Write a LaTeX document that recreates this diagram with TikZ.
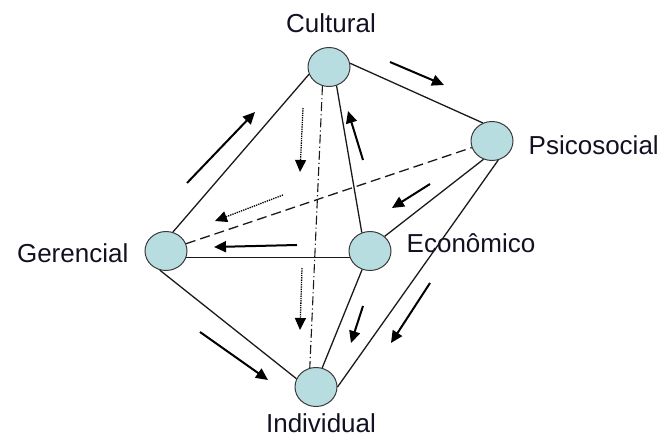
\documentclass[tikz,border=0pt]{standalone}
\usepackage{fontspec}
\setsansfont{Liberation Sans}
\usepackage{xcolor}
\definecolor{cNode}{HTML}{B7DDE0}
\definecolor{cRim}{HTML}{3A3A3A}
\definecolor{cText}{HTML}{111122}
\definecolor{cLine}{HTML}{1A1A1A}
\usepackage{tikz}
\usetikzlibrary{positioning,arrows.meta,shapes.geometric,calc}
\tikzset{
  node-dim/.style={ellipse,draw=cRim,line width=1pt,fill=cNode,
    minimum width=42pt,minimum height=39pt,inner sep=0pt},
  node-label/.style={inner sep=0pt,text=cText,
    font=\sffamily\fontsize{26}{30}\selectfont},
  edge/.style={draw=cLine,line width=1.3pt},
  edge-dashed/.style={edge,dash pattern=on 10pt off 5pt},
  edge-dashdot/.style={edge,line width=1.1pt,
    dash pattern=on 9pt off 3pt on 1.2pt off 3pt},
  arrow/.style={-{Triangle[length=12pt,width=11pt]},line width=2pt,draw=black},
  arrow-dotted/.style={-{Triangle[length=12pt,width=11pt]},line width=1.3pt,
    densely dotted,draw=black},
}

\begin{document}
\begin{tikzpicture}[x=1pt,y=-1pt]
  \useasboundingbox (0,0) rectangle (664,439);

  % dimensoes
  \node[node-dim] (cul) at (329,67) {};
  \node[node-dim] (psi) at (492,141) {};
  \node[node-dim] (ger) at (166,251) {};
  \node[node-dim] (eco) at (370,251) {};
  \node[node-dim] (ind) at (316,387) {};

  \node[node-label,anchor=base] (cul-l) at ([xshift=2pt,yshift=14.5pt]cul.north) {Cultural};
  \node[node-label,anchor=base west] (psi-l) at ([xshift=15pt,yshift=-13pt]psi.east) {Psicosocial};
  \node[node-label,anchor=base west] (eco-l) at ([xshift=15pt,yshift=-1pt]eco.east) {Econômico};
  \node[node-label,anchor=base east] (ger-l) at ([xshift=-16pt,yshift=-11pt]ger.west) {Gerencial};
  \node[node-label,anchor=base] (ind-l) at ([xshift=5pt,yshift=-25.5pt]ind.south) {Individual};

  % arestas
  \draw[edge] (cul.10) -- (psi.117);
  \draw[edge] (cul.200) -- (ger.70);
  \draw[edge] (cul.-68) -- (eco.114);
  \draw[edge] (psi.-115) -- (eco.45);
  \draw[edge] (psi.-72) -- (ind.east);
  \draw[edge] (ger.-17) -- (eco.197);
  \draw[edge] (ger.-108) -- (ind.157);
  \draw[edge] (eco.-113) -- (ind.72);
  \draw[edge-dashed] (ger.20) -- (psi.198);
  \draw[edge-dashdot] (cul.-109) -- (ind.108);

  % fluxos
  \coordinate (f1a) at (187,183);  \coordinate (f1b) at (255,112);
  \coordinate (f2a) at (390,62);   \coordinate (f2b) at (444,85);
  \coordinate (f3a) at (363,160);  \coordinate (f3b) at (348,111);
  \coordinate (f4a) at (303,108);  \coordinate (f4b) at (300,172);
  \coordinate (f5a) at (283,195);  \coordinate (f5b) at (215,221);
  \coordinate (f6a) at (297,245);  \coordinate (f6b) at (214,247);
  \coordinate (f7a) at (430,184);  \coordinate (f7b) at (392,208);
  \coordinate (f8a) at (302,268);  \coordinate (f8b) at (300,330);
  \coordinate (f9a) at (363,306);  \coordinate (f9b) at (351,343);
  \coordinate (f10a) at (430,283); \coordinate (f10b) at (391,343);
  \coordinate (f11a) at (200,332); \coordinate (f11b) at (268,380);

  \draw[arrow] (f1a) -- (f1b);
  \draw[arrow] (f2a) -- (f2b);
  \draw[arrow] (f3a) -- (f3b);
  \draw[arrow-dotted] (f4a) -- (f4b);
  \draw[arrow-dotted] (f5a) -- (f5b);
  \draw[arrow] (f6a) -- (f6b);
  \draw[arrow] (f7a) -- (f7b);
  \draw[arrow-dotted] (f8a) -- (f8b);
  \draw[arrow] (f9a) -- (f9b);
  \draw[arrow] (f10a) -- (f10b);
  \draw[arrow] (f11a) -- (f11b);
\end{tikzpicture}
\end{document}
